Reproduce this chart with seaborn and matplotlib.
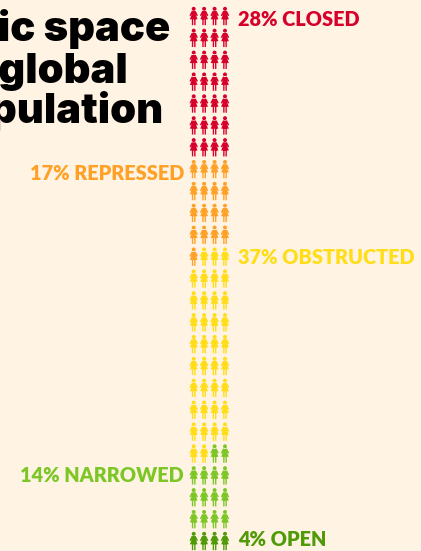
import numpy as np
import pandas as pd
import matplotlib
matplotlib.use("Agg")
import matplotlib.pyplot as plt
from matplotlib.path import Path
import seaborn as sns

categories = ["CLOSED", "REPRESSED", "OBSTRUCTED", "NARROWED", "OPEN"]
shares = [28, 17, 37, 14, 4]
colors = ["#d6002b", "#ffa126", "#ffdd17", "#7cc626", "#4f9a06"]
title_lines = ["Civic space", "and global", "population"]

bg = "#fff3e3"
W, H = 421, 551

# one icon per percent, 4 per row
cat_col = np.repeat(categories, shares)
df = pd.DataFrame({"category": cat_col})
df["col"] = df.index % 4
df["row"] = df.index // 4


def woman_icon():
    # head
    t = np.linspace(0, 2 * np.pi, 17)
    verts = [np.column_stack([0.22 * np.cos(t), 0.78 + 0.22 * np.sin(t)])]
    # dress + arms
    verts.append(np.array([[-0.22, 0.54], [0.22, 0.54], [0.46, 0.06], [0.34, -0.02], [0.2, 0.2],
                           [0.42, -0.36], [-0.42, -0.36], [-0.2, 0.2], [-0.34, -0.02], [-0.46, 0.06],
                           [-0.22, 0.54]]))
    # legs
    verts.append(np.array([[-0.2, -0.3], [-0.05, -0.3], [-0.05, -1.0], [-0.2, -1.0], [-0.2, -0.3]]))
    verts.append(np.array([[0.05, -0.3], [0.2, -0.3], [0.2, -1.0], [0.05, -1.0], [0.05, -0.3]]))
    all_v, codes = [], []
    for v in verts:
        all_v.append(v)
        codes += [Path.MOVETO] + [Path.LINETO] * (len(v) - 2) + [Path.CLOSEPOLY]
    return Path(np.vstack(all_v), codes)


sns.set_theme(style="white", rc={"figure.facecolor": bg, "axes.facecolor": "none"})

fig = plt.figure(figsize=(W / 100, H / 100), dpi=100)
ax = fig.add_axes([193.7 / W, (H - 541) / H, 31.3 / W, 525 / H])
sns.scatterplot(data=df, x="col", y="row", hue="category", hue_order=categories, palette=colors,
                marker=woman_icon(), s=175, linewidth=0, legend=False, clip_on=False, ax=ax)
ax.set_xlim(0, 3)
ax.set_ylim(24, 0)
ax.axis("off")


def px(x, y, s, c, ha="left", size=14.3, family="Lato", weight="heavy", va="center"):
    fig.text(x / W, 1 - y / H, s, color=c, ha=ha, va=va, fontsize=size, family=family, weight=weight)


px(238, 20, f"{shares[0]}% {categories[0]}", colors[0])
px(184, 173, f"{shares[1]}% {categories[1]}", colors[1], ha="right")
px(238, 258, f"{shares[2]}% {categories[2]}", colors[2])
px(184, 476, f"{shares[3]}% {categories[3]}", colors[3], ha="right")
px(238, 540, f"{shares[4]}% {categories[4]}", colors[4])

title_right = [170, 128, 164]
title_y = [41, 83, 123]
for line, r, y in zip(title_lines, title_right, title_y):
    px(r, y, line, "#000000", ha="right", size=30, family="Inter", weight="black", va="baseline")

fig.savefig("out.png", dpi=100, facecolor=bg)
